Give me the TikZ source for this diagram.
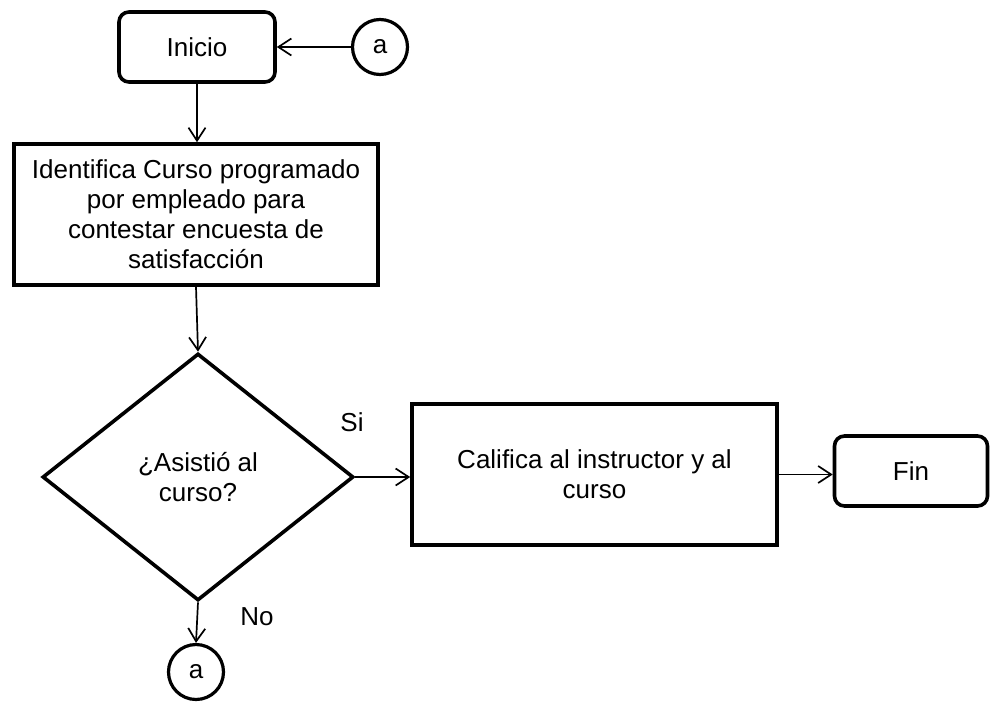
\documentclass[tikz,border=0pt]{standalone}
\usepackage{fontspec}
\setmainfont{Liberation Sans}
\usetikzlibrary{shapes.geometric,arrows.meta}
\begin{document}
\begin{tikzpicture}[x=1pt,y=1pt,
  every node/.style={font=\fontsize{26}{30}\selectfont},
  term/.style={draw,line width=3.6pt,rounded corners=10pt,minimum width=153pt,minimum height=70pt,inner sep=0pt},
  proc/.style={draw,line width=3.6pt,minimum width=364pt,minimum height=141pt,align=center,inner sep=0pt},
  conn/.style={draw,circle,line width=3.2pt,minimum size=55pt,inner sep=0pt},
  dec/.style={draw,diamond,line width=3.6pt,minimum width=311pt,minimum height=247pt,inner sep=0pt,align=center},
  flow/.style={line width=1.7pt,-{Straight Barb[length=13pt,width=17pt,line width=1.7pt]}},
  lbl/.style={inner sep=0pt}]
\fill[white] (0,0) rectangle (992,-702);
\useasboundingbox (0,0) rectangle (992,-702);

\node[term,minimum width=156pt] (ini) at (197,-47) {Inicio};
\node[conn] (ca) at (380,-47) {a};
\node[proc] (b1) at (196,-214.5) {Identifica Curso programado\\por empleado para\\contestar encuesta de\\satisfacción};
\node[dec] (dec) at (198,-477) {¿Asistió al\\curso?};
\node[proc,minimum width=365pt] (b2) at (594.5,-474.5) {Califica al instructor y al\\curso};
\node[term] (fin) at (911,-471) {Fin};
\node[conn] (cb) at (196,-672) {a};

\node[lbl] (si) at (352,-422) {Si};
\node[lbl] (no) at (257,-617) {No};

\draw[flow] (ca.west) -- (ini.east);
\draw[flow] (ini.south) -- (ini.south |- b1.north);
\draw[flow] (b1.south) -- (dec.north);
\draw[flow] (dec.east) -- (dec.east -| b2.west);
\draw[flow] (b2.east) -- (b2.east -| fin.west);
\draw[flow] (dec.south) -- (cb.north);
\end{tikzpicture}
\end{document}
